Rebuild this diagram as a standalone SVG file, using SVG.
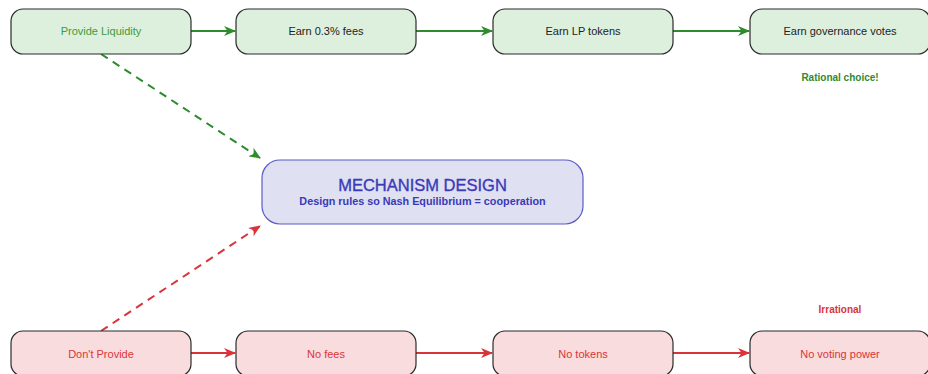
<svg xmlns="http://www.w3.org/2000/svg" width="928" height="374" viewBox="0 0 928 374">
  <style>
    .node rect { stroke: #2b2b2b; stroke-width: 1.2; }
    .good rect { fill: #ddf0dd; }
    .bad rect { fill: #f9dcdd; }
    .lbl { font-family: "Liberation Sans", Arial, sans-serif; font-size: 11px; text-anchor: middle; dominant-baseline: central; fill: #222; }
    .bad .lbl { fill: #d9343a; }
    .gtxt { fill: #3d9a3d; }
    .edge { fill: none; stroke-width: 2; }
    .eg { stroke: #2e8b2e; }
    .er { stroke: #d9343a; }
    .dash { stroke-dasharray: 8 6; }
    .note { font-family: "Liberation Sans", Arial, sans-serif; font-size: 10px; font-weight: bold; text-anchor: middle; }
  </style>
  <defs>
    <marker id="ag" viewBox="0 0 12 10" refX="11" refY="5" markerWidth="12" markerHeight="10" markerUnits="userSpaceOnUse" orient="auto">
      <path d="M0,0 L12,5 L0,10 L3.5,5 Z" fill="#2e8b2e"/>
    </marker>
    <marker id="ar" viewBox="0 0 12 10" refX="11" refY="5" markerWidth="12" markerHeight="10" markerUnits="userSpaceOnUse" orient="auto">
      <path d="M0,0 L12,5 L0,10 L3.5,5 Z" fill="#d9343a"/>
    </marker>
  </defs>

  <!-- connectors -->
  <g id="connectors">
    <line class="edge eg" x1="191" y1="31" x2="235" y2="31" marker-end="url(#ag)"/>
    <line class="edge eg" x1="416" y1="31" x2="492" y2="31" marker-end="url(#ag)"/>
    <line class="edge eg" x1="673" y1="31" x2="749" y2="31" marker-end="url(#ag)"/>
    <line class="edge er" x1="191" y1="353" x2="235" y2="353" marker-end="url(#ar)"/>
    <line class="edge er" x1="416" y1="353" x2="492" y2="353" marker-end="url(#ar)"/>
    <line class="edge er" x1="673" y1="353" x2="749" y2="353" marker-end="url(#ar)"/>
    <line class="edge eg dash" x1="101" y1="54" x2="260" y2="158" marker-end="url(#ag)"/>
    <line class="edge er dash" x1="101" y1="331" x2="260" y2="226" marker-end="url(#ar)"/>
  </g>

  <!-- top row -->
  <g id="provide" class="node good">
    <rect x="11" y="9" width="180" height="45" rx="12"/>
    <text class="lbl gtxt" x="101" y="31">Provide Liquidity</text>
  </g>
  <g id="fees" class="node good">
    <rect x="236" y="9" width="180" height="45" rx="12"/>
    <text class="lbl" x="326" y="31">Earn 0.3% fees</text>
  </g>
  <g id="lp" class="node good">
    <rect x="493" y="9" width="180" height="45" rx="12"/>
    <text class="lbl" x="583" y="31">Earn LP tokens</text>
  </g>
  <g id="gov" class="node good">
    <rect x="750" y="9" width="180" height="45" rx="12"/>
    <text class="lbl" x="840" y="31">Earn governance votes</text>
  </g>

  <!-- bottom row -->
  <g id="dont" class="node bad">
    <rect x="11" y="331" width="180" height="45" rx="12"/>
    <text class="lbl" x="101" y="354">Don't Provide</text>
  </g>
  <g id="nofees" class="node bad">
    <rect x="236" y="331" width="180" height="45" rx="12"/>
    <text class="lbl" x="326" y="354">No fees</text>
  </g>
  <g id="notokens" class="node bad">
    <rect x="493" y="331" width="180" height="45" rx="12"/>
    <text class="lbl" x="583" y="354">No tokens</text>
  </g>
  <g id="novote" class="node bad">
    <rect x="750" y="331" width="180" height="45" rx="12"/>
    <text class="lbl" x="840" y="354">No voting power</text>
  </g>

  <!-- center -->
  <g id="mechanism">
    <rect x="262" y="160" width="321" height="64" rx="18" fill="#dfe0f2" stroke="#5a5ac8" stroke-width="1.2"/>
    <text x="422.5" y="184.5" font-family="Liberation Sans, Arial, sans-serif" font-size="16.5" text-anchor="middle" dominant-baseline="central" fill="#3a3ab8" stroke="#3a3ab8" stroke-width="0.35">MECHANISM DESIGN</text>
    <text x="422.5" y="201" font-family="Liberation Sans, Arial, sans-serif" font-size="10.8" font-weight="bold" text-anchor="middle" dominant-baseline="central" fill="#3a3ab8">Design rules so Nash Equilibrium = cooperation</text>
  </g>

  <text class="note" x="840" y="81" fill="#2e8b2e">Rational choice!</text>
  <text class="note" x="840" y="313" fill="#d9343a">Irrational</text>
</svg>
